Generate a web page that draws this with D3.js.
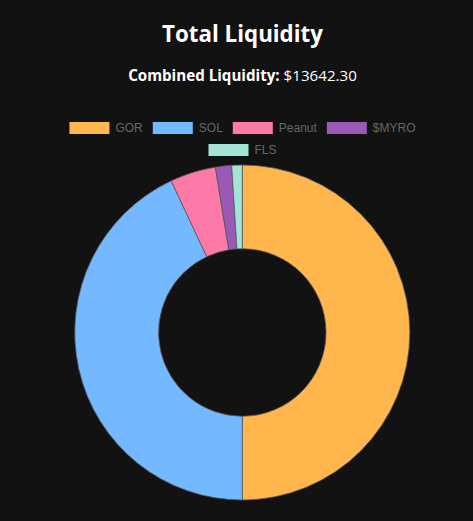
<!DOCTYPE html>
<html lang="en">
<head>
  <meta charset="UTF-8" />
  <title>Total Liquidity</title>
  <style>
    body {
      margin: 0;
      background: #121212;
      overflow: hidden;
    }
    svg { display: block; }
    .title { font-family: 'Open Sans', 'Noto Sans', sans-serif; font-weight: 700; fill: #fff; }
    .sub { font-family: 'Open Sans', 'Noto Sans', sans-serif; fill: #fff; }
    .legend text { font-family: 'Liberation Sans', Arial, sans-serif; font-size: 12px; fill: #666; }
  </style>
</head>
<body>
  <svg id="chart" width="473" height="521"></svg>

  <script src="https://d3js.org/d3.v7.min.js"></script>
  <script>
    // token liquidity (USD)
    const labels = ["GOR", "SOL", "Peanut", "$MYRO", "FLS"];
    const values = [6821.15, 5869.15, 601.00, 213.00, 138.00];
    const colors = ["#FFB74D", "#74B9FF", "#FD79A8", "#9B59B6", "#A3E4D7"];

    const total = d3.sum(values);
    const width = 473, height = 521;
    const svg = d3.select("#chart");

    // headings
    const title = svg.append("text")
      .attr("class", "title")
      .attr("x", 242.5).attr("y", 42)
      .attr("text-anchor", "middle")
      .style("font-size", "22px")
      .text("Total Liquidity");
    // fit title to ~161px like the original
    let w = title.node().getComputedTextLength();
    title.style("font-size", (22 * 161 / w) + "px");

    const sub = svg.append("text")
      .attr("class", "sub")
      .attr("x", 242.5).attr("y", 81)
      .attr("text-anchor", "middle")
      .style("font-size", "15px");
    sub.append("tspan").style("font-weight", 700).text("Combined Liquidity: ");
    sub.append("tspan").text("$" + total.toFixed(2));
    w = sub.node().getComputedTextLength();
    sub.style("font-size", (15 * 229 / w) + "px");

    // legend, laid out in rows like chart.js does
    const boxW = 40, boxH = 12, fontSize = 12, pad = 10, maxW = 400, cx = 242.5;
    const legend = svg.append("g").attr("class", "legend");
    const items = labels.map((l, i) => {
      const t = legend.append("text").text(l);
      const tw = t.node().getComputedTextLength();
      return { label: l, color: colors[i], text: t, width: boxW + fontSize / 2 + tw };
    });
    const rows = [[]];
    let rowW = 0;
    items.forEach(it => {
      if (rows[rows.length - 1].length && rowW + pad + it.width > maxW) {
        rows.push([]);
        rowW = 0;
      }
      rowW += (rows[rows.length - 1].length ? pad : 0) + it.width;
      rows[rows.length - 1].push(it);
    });
    rows.forEach((row, r) => {
      const total = d3.sum(row, d => d.width) + pad * (row.length - 1);
      let x = cx - total / 2;
      const y = 122 + r * (fontSize + pad);
      row.forEach(it => {
        legend.append("rect")
          .attr("x", x).attr("y", y)
          .attr("width", boxW).attr("height", boxH)
          .attr("fill", it.color);
        it.text
          .attr("x", x + boxW + fontSize / 2)
          .attr("y", y + boxH / 2)
          .attr("dy", "0.35em");
        x += it.width + pad;
      });
    });

    // doughnut
    const outerR = 167.5;
    const pie = d3.pie().sort(null).value(d => d);
    const arc = d3.arc().innerRadius(outerR * 0.5).outerRadius(outerR);

    svg.append("g")
      .attr("transform", "translate(242.3,332.5)")
      .selectAll("path")
      .data(pie(values))
      .join("path")
      .attr("d", arc)
      .attr("fill", (d, i) => colors[i])
      .attr("stroke", "#5a5a5a")
      .attr("stroke-width", 0.8);
  </script>
</body>
</html>
